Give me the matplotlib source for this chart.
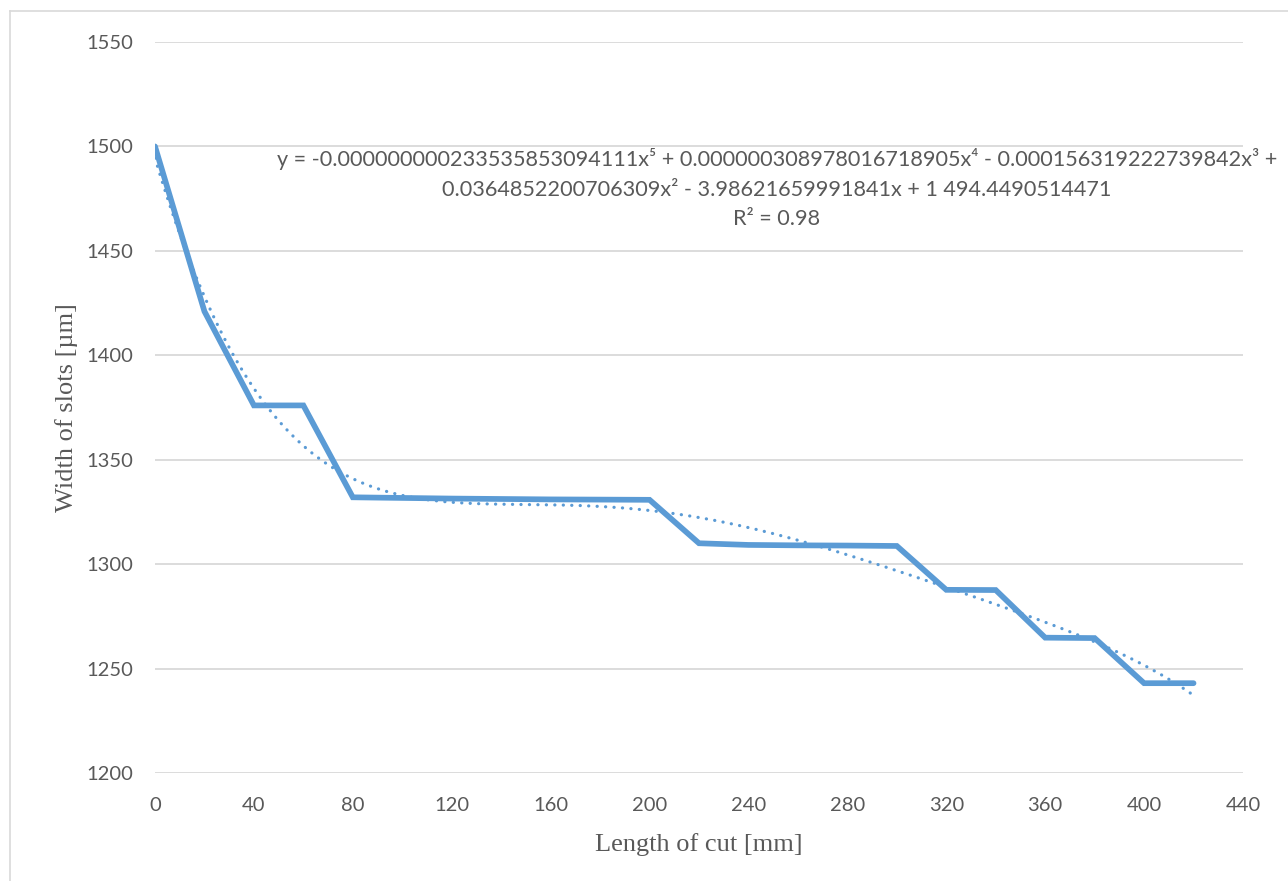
import numpy as np
import matplotlib
matplotlib.use('Agg')
import matplotlib.pyplot as plt
from matplotlib.lines import Line2D

# length of cut [mm] and measured slot width [um]
length_mm = [0, 20, 40, 60, 80, 100, 120, 140, 160, 180, 200,
             220, 240, 260, 280, 300, 320, 340, 360, 380, 400, 420]
width_um = [1500, 1421, 1376, 1376, 1332, 1331.7, 1331.4, 1331.2, 1331,
            1330.9, 1330.8, 1310, 1309.2, 1309, 1308.9, 1308.7, 1287.7,
            1287.6, 1264.8, 1264.6, 1243, 1243]

# 5th order polynomial trend line, highest power first
trend_coefs = [-0.000000000233535853094111, 0.000000308978016718905,
               -0.000156319222739842, 0.0364852200706309,
               -3.98621659991841, 1494.4490514471]
r_squared = 0.98

x_ticks = np.arange(0, 441, 40)
y_ticks = np.arange(1200, 1551, 50)

BLUE = '#5B9BD5'
GRAY_TXT = '#595959'
GRID = '#D9D9D9'
SANS = ['Lato', 'DejaVu Sans']
SERIF = ['Liberation Serif', 'DejaVu Serif']

fig = plt.figure(figsize=(12.88, 8.81), dpi=100)
ax = fig.add_axes([155 / 1288, 1 - 773 / 881, 1088 / 1288, 731 / 881])

ax.plot(length_mm, width_um, color=BLUE, linewidth=4.1,
        solid_joinstyle='miter', solid_capstyle='round', zorder=3)

xt = np.linspace(0, 420, 400)
ax.plot(xt, np.polyval(trend_coefs, xt), color=BLUE, linewidth=2.3,
        linestyle=(0, (0.05, 2.6)), dash_capstyle='round', zorder=4)

ax.set_xlim(0, 440)
ax.set_ylim(1200, 1550)
ax.set_xticks(x_ticks)
ax.set_yticks(y_ticks)
ax.tick_params(length=0, labelsize=14.5, labelcolor=GRAY_TXT)
for lbl in ax.get_xticklabels() + ax.get_yticklabels():
    lbl.set_family(SANS)
ax.tick_params(axis='y', pad=16)
ax.tick_params(axis='x', pad=17)

ax.grid(axis='y', color=GRID, linewidth=1.3)
ax.set_axisbelow(True)
for s in ax.spines.values():
    s.set_visible(False)

ax.set_xlabel('Length of cut [mm]', family=SERIF, fontsize=19,
              color=GRAY_TXT, labelpad=14)
ax.set_ylabel('Width of slots [µm]', family=SERIF, fontsize=19,
              color=GRAY_TXT, labelpad=6)

eq = ('y = -0.000000000233535853094111x\u2075 + 0.000000308978016718905x\u2074'
      ' - 0.000156319222739842x\u00b3 +\n'
      '0.0364852200706309x\u00b2 - 3.98621659991841x + 1 494.4490514471\n'
      'R\u00b2 = {:.2f}'.format(r_squared))
fig.text(777 / 1288, 1 - 148 / 881, eq, ha='center', va='top',
         family=SANS, fontsize=15.6, color=GRAY_TXT, linespacing=1.6)

# chart area border
fig.add_artist(Line2D([10 / 1288, 10 / 1288], [0, 1 - 11 / 881],
                      transform=fig.transFigure, color=GRID, linewidth=1.2))
fig.add_artist(Line2D([10 / 1288, 1], [1 - 11 / 881, 1 - 11 / 881],
                      transform=fig.transFigure, color=GRID, linewidth=1.2))

fig.savefig('out.png', dpi=100)
